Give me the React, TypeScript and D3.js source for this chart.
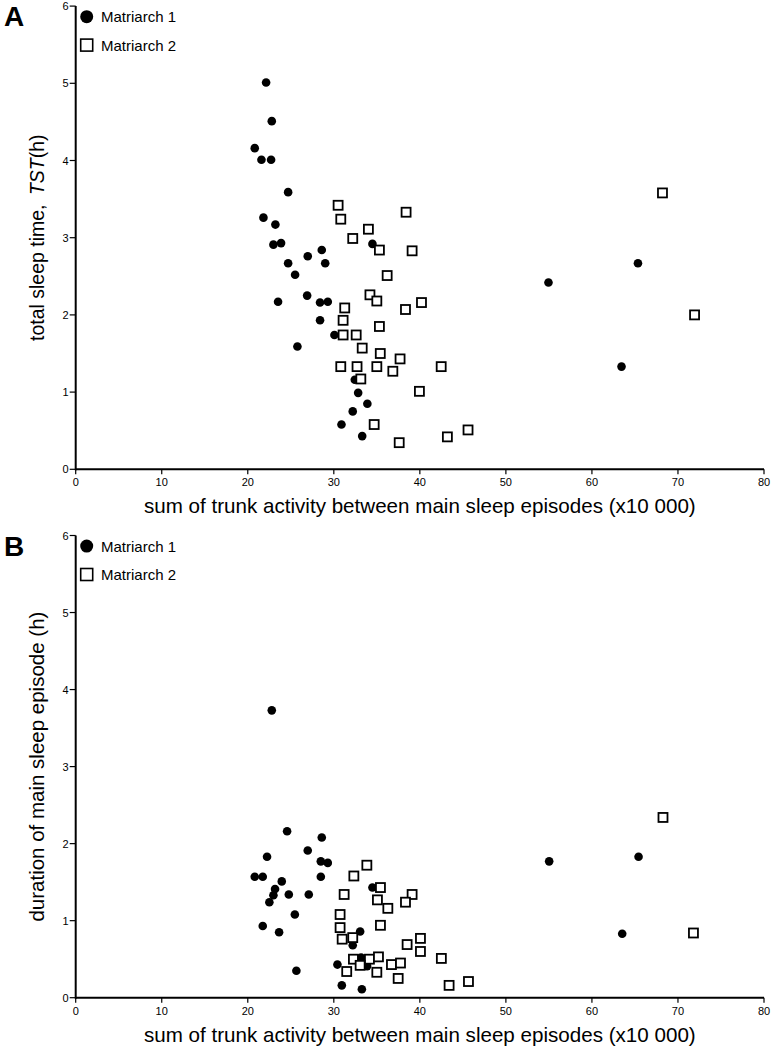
import React from "react";
import * as d3 from "d3";

// Panel A: total sleep time vs trunk activity
const m1A_x = [22.13, 22.79, 20.81, 21.59, 22.71, 24.69, 21.82, 23.21, 22.98, 23.87, 34.49, 28.6, 26.97, 24.69, 29.0, 25.5, 23.52, 26.9, 28.4, 29.3, 28.4, 30.07, 25.77, 32.44, 32.83, 33.9, 32.2, 30.89, 33.3, 54.95, 65.35, 63.44];
const m1A_y = [5.01, 4.51, 4.16, 4.01, 4.01, 3.59, 3.26, 3.17, 2.91, 2.93, 2.92, 2.84, 2.76, 2.67, 2.67, 2.52, 2.17, 2.25, 2.16, 2.17, 1.93, 1.74, 1.59, 1.16, 0.99, 0.85, 0.75, 0.58, 0.43, 2.42, 2.67, 1.33];
const m2A_x = [30.5, 30.81, 34.02, 38.4, 32.2, 35.3, 39.1, 36.2, 34.2, 35.0, 40.19, 31.27, 38.33, 31.08, 35.3, 31.08, 32.6, 33.3, 35.4, 37.7, 42.48, 30.81, 32.7, 35.0, 36.86, 33.14, 39.95, 34.69, 37.6, 43.2, 45.6, 68.2, 71.93];
const m2A_y = [3.42, 3.24, 3.11, 3.33, 2.99, 2.84, 2.83, 2.51, 2.26, 2.18, 2.16, 2.09, 2.07, 1.93, 1.85, 1.74, 1.74, 1.57, 1.5, 1.43, 1.33, 1.33, 1.33, 1.33, 1.27, 1.17, 1.01, 0.58, 0.345, 0.42, 0.51, 3.58, 2.0];

// Panel B: duration of main sleep episode vs trunk activity
const m1B_x = [22.79, 24.57, 28.6, 22.24, 26.97, 28.49, 29.3, 20.81, 21.74, 28.49, 23.95, 23.17, 22.98, 24.77, 27.09, 22.51, 25.47, 21.74, 34.49, 23.64, 33.06, 32.2, 33.17, 33.87, 30.42, 25.65, 30.93, 33.26, 55.03, 65.42, 63.52];
const m1B_y = [3.73, 2.16, 2.08, 1.83, 1.91, 1.77, 1.75, 1.57, 1.57, 1.57, 1.51, 1.41, 1.33, 1.34, 1.34, 1.24, 1.08, 0.93, 1.43, 0.85, 0.86, 0.68, 0.52, 0.41, 0.43, 0.35, 0.16, 0.11, 1.77, 1.83, 0.83];
const m2B_x = [33.84, 32.33, 35.42, 31.2, 39.1, 35.07, 38.33, 36.28, 30.73, 35.42, 30.73, 30.97, 32.2, 38.52, 40.07, 40.07, 42.5, 32.28, 34.14, 35.19, 33.06, 36.7, 37.75, 31.5, 35.0, 37.48, 43.4, 45.65, 68.26, 71.8];
const m2B_y = [1.72, 1.58, 1.43, 1.34, 1.34, 1.27, 1.24, 1.16, 1.08, 0.94, 0.91, 0.76, 0.78, 0.69, 0.77, 0.6, 0.51, 0.5, 0.5, 0.53, 0.42, 0.43, 0.45, 0.34, 0.33, 0.25, 0.16, 0.21, 2.34, 0.84];

const xTicks = [0, 10, 20, 30, 40, 50, 60, 70, 80];
const yTicks = [0, 1, 2, 3, 4, 5, 6];
const seriesNames = ["Matriarch 1", "Matriarch 2"];
const xTitle = "sum of trunk activity between main sleep episodes (x10 000)";

const W = 773;
const H = 1050;
const FONT = "'Liberation Sans', Arial, Helvetica, sans-serif";
const LEFT = 75.7;
const RIGHT = 764;

type PanelProps = {
  top: number;
  bottom: number;
  letter: string;
  m1x: number[];
  m1y: number[];
  m2x: number[];
  m2y: number[];
  yLabel: React.ReactNode;
  yLabelSize: number;
};

function Panel({ top, bottom, letter, m1x, m1y, m2x, m2y, yLabel, yLabelSize }: PanelProps) {
  const x = d3.scaleLinear().domain([0, 80]).range([LEFT, RIGHT]);
  const y = d3.scaleLinear().domain([0, 6]).range([bottom, top]);
  const sq = 9;
  return (
    <g>
      <text x={4} y={top + 20} fontFamily={FONT} fontWeight="bold" fontSize={28}>
        {letter}
      </text>
      {/* points */}
      {m1x.map((v, i) => (
        <circle key={"c" + i} cx={x(v)} cy={y(m1y[i])} r={4.3} fill="#000" />
      ))}
      {m2x.map((v, i) => (
        <rect
          key={"s" + i}
          x={x(v) - sq / 2}
          y={y(m2y[i]) - sq / 2}
          width={sq}
          height={sq}
          fill="#fff"
          stroke="#000"
          strokeWidth={1.8}
        />
      ))}
      {/* axes */}
      <line x1={LEFT} x2={RIGHT} y1={bottom} y2={bottom} stroke="#000" strokeWidth={2} />
      <line x1={LEFT} x2={LEFT} y1={top} y2={bottom + 1} stroke="#000" strokeWidth={2} />
      {xTicks.map((t) => (
        <g key={"xt" + t}>
          <line x1={x(t)} x2={x(t)} y1={bottom} y2={bottom + 5} stroke="#000" strokeWidth={1.2} />
          <text x={x(t)} y={bottom + 17} textAnchor="middle" fontFamily={FONT} fontSize={11}>
            {t}
          </text>
        </g>
      ))}
      {yTicks.map((t) => (
        <g key={"yt" + t}>
          <line x1={LEFT - 6} x2={LEFT} y1={y(t)} y2={y(t)} stroke="#000" strokeWidth={1.2} />
          <text x={LEFT - 7} y={y(t) + 4} textAnchor="end" fontFamily={FONT} fontSize={11}>
            {t}
          </text>
        </g>
      ))}
      {/* axis titles */}
      <text
        x={(LEFT + RIGHT) / 2}
        y={bottom + 43.8}
        textAnchor="middle"
        fontFamily={FONT}
        fontSize={20.6}
      >
        {xTitle}
      </text>
      <text
        transform={`translate(${43.5},${(top + bottom) / 2}) rotate(-90)`}
        textAnchor="middle"
        fontFamily={FONT}
        fontSize={yLabelSize}
      >
        {yLabel}
      </text>
      {/* legend */}
      <circle cx={86.7} cy={top + 10.6} r={6.5} fill="#000" />
      <text x={101} y={top + 16} fontFamily={FONT} fontSize={15}>
        {seriesNames[0]}
      </text>
      <rect x={80.7} y={top + 33} width={12} height={12} fill="#fff" stroke="#000" strokeWidth={1.6} />
      <text x={101} y={top + 44.5} fontFamily={FONT} fontSize={15}>
        {seriesNames[1]}
      </text>
    </g>
  );
}

export default function App() {
  return (
    <svg
      width={W}
      height={H}
      style={{ position: "absolute", left: 0, top: 0, background: "#fff" }}
    >
      <rect x={0} y={0} width={W} height={H} fill="#fff" />
      <Panel
        top={6.1}
        bottom={469.3}
        letter="A"
        m1x={m1A_x}
        m1y={m1A_y}
        m2x={m2A_x}
        m2y={m2A_y}
        yLabelSize={19.5}
        yLabel={
          <>
            <tspan>total sleep time, </tspan>
            <tspan fontStyle="italic" dx={4}>TST</tspan>
            <tspan>(h)</tspan>
          </>
        }
      />
      <Panel
        top={535.5}
        bottom={997.7}
        letter="B"
        m1x={m1B_x}
        m1y={m1B_y}
        m2x={m2B_x}
        m2y={m2B_y}
        yLabelSize={20.5}
        yLabel="duration of main sleep episode (h)"
      />
    </svg>
  );
}
